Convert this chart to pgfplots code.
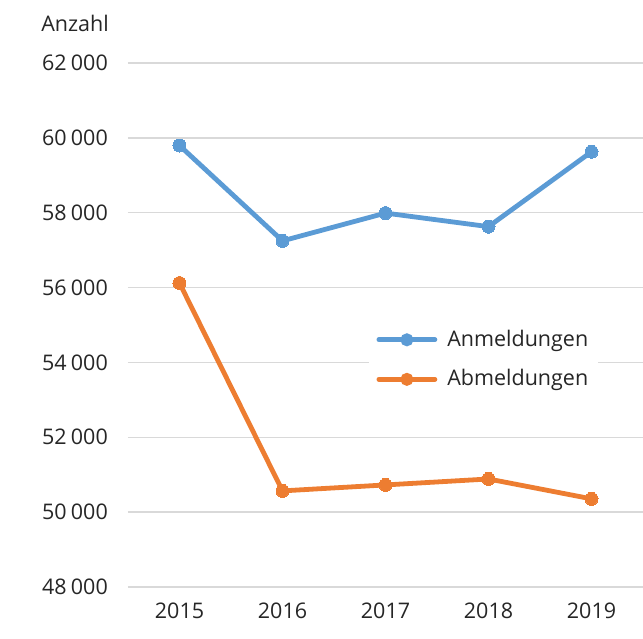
\documentclass[border=0pt]{standalone}
\usepackage{pgfplots}
\pgfplotsset{compat=1.18}
\usepackage{fontspec}
\setmainfont{Open Sans}
\definecolor{cblue}{HTML}{5B9BD5}
\definecolor{corange}{HTML}{ED7D31}
\definecolor{cgrid}{HTML}{D9D9D9}
\definecolor{ctext}{HTML}{262626}
\newcommand{\fs}{\fontsize{21.5bp}{25bp}\selectfont}
\begin{document}
\fs
\begin{tikzpicture}
\begin{axis}[
  scale only axis,
  clip=false,
  width=515bp, height=524bp,
  xmin=-0.5, xmax=4.5,
  ymin=48000, ymax=62000,
  xtick={0,1,2,3,4},
  xticklabels={2015,2016,2017,2018,2019},
  ytick={48000,50000,...,62000},
  ymajorgrids,
  grid style={cgrid, line width=1.5bp},
  axis line style={draw=none},
  major tick length=0pt,
  tick style={draw=none},
  /pgf/number format/assume math mode=true,
  /pgf/number format/1000 sep={\hspace{0.2em}},
  scaled y ticks=false,
  ticklabel style={font=\fs, text=ctext},
  yticklabel style={inner sep=0pt, anchor=east, xshift=-20bp},
  xticklabel style={inner sep=0pt, anchor=north, yshift=-16bp},
  legend style={draw=none, fill=white, at={(0.69,0.434)}, anchor=center,
    font=\fs, text=ctext,
    row sep=16bp, inner xsep=8bp, inner ysep=4bp},
  legend cell align=left,
  legend image code/.code={
    \draw[#1, mark=none, line cap=round, line width=4.8bp] (0bp,0bp) -- (56bp,0bp);
    \fill[#1] (28bp,0bp) circle (4bp);
    \path (64bp,0bp);
  },
]
\addplot[cblue, line width=4.8bp, mark=*, mark size=6.5bp, mark options={fill=cblue, draw=cblue, line width=0pt}]
  coordinates {(0,59795) (1,57248) (2,57990) (3,57628) (4,59628)};
\addlegendentry{Anmeldungen}
\addplot[corange, line width=4.8bp, mark=*, mark size=6.5bp, mark options={fill=corange, draw=corange, line width=0pt}]
  coordinates {(0,56122) (1,50568) (2,50727) (3,50886) (4,50355)};
\addlegendentry{Abmeldungen}
\node[anchor=base east, inner sep=0pt, text=ctext, font=\fs] at (rel axis cs:0,1) [xshift=-19bp, yshift=31bp] {Anzahl};
\end{axis}
\pgfresetboundingbox
\useasboundingbox (-128bp,-52bp) rectangle (515bp,587bp);
\end{tikzpicture}
\end{document}
